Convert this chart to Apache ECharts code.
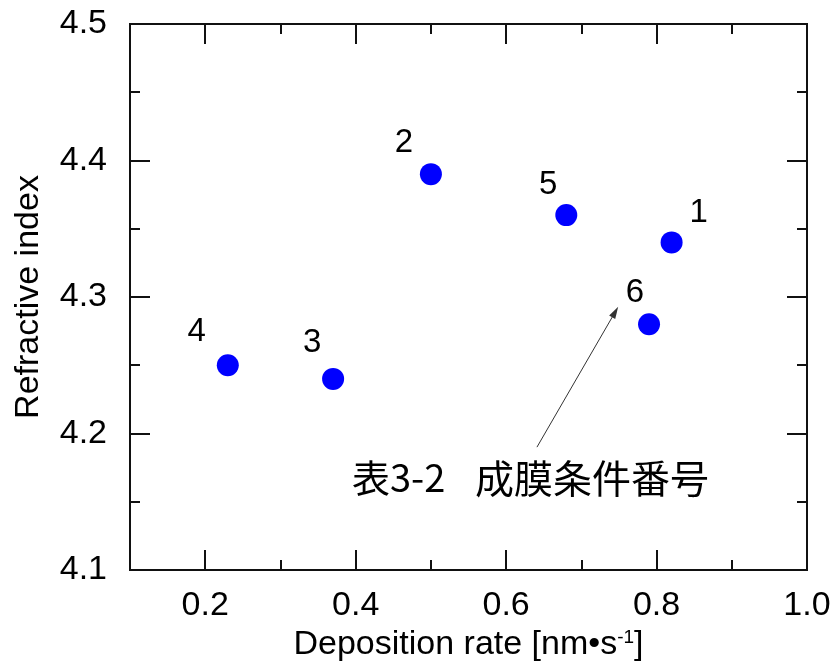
<!DOCTYPE html>
<html><head><meta charset="utf-8">
<script src="https://cdn.jsdelivr.net/npm/echarts@6/dist/echarts.min.js"></script>
<style>html,body{margin:0;padding:0;background:#fff}#c{width:837px;height:672px}</style>
</head><body><div id="c"></div>
<script>
const rates = [0.82, 0.50, 0.37, 0.23, 0.68, 0.79];
const indices = [4.34, 4.39, 4.24, 4.25, 4.36, 4.28];
const pointLabels = ['1','2','3','4','5','6'];
const xMajor = [0.2, 0.4, 0.6, 0.8, 1.0];
const xMinor = [0.1, 0.3, 0.5, 0.7, 0.9];
const yMajor = [4.1, 4.2, 4.3, 4.4, 4.5];
const yMinor = [4.15, 4.25, 4.35, 4.45];
const arrowFrom = [0.641, 4.19];
const arrowTo = [0.745, 4.289];
const noteParts = ['表3-2', '成膜条件番号'];

const labelOffsets = [[27,-29],[-27,-31],[-21,-36],[-31,-33],[-18,-30],[-14,-31]];
const FONT = '"Liberation Sans", Arial, sans-serif';
const LC = '#111';

function xAx(pos, vals, len, showLabel, showName) {
  return {
    type:'value', min:0.1, max:1.0, position:pos,
    axisLine:{show:true, onZero:false, lineStyle:{color:LC, width:2}},
    axisTick:{show:true, inside:true, length:len, customValues:vals, lineStyle:{color:LC, width:2}},
    axisLabel:{show:showLabel, customValues:xMajor, margin:19, color:'#000', fontSize:34, fontFamily:FONT,
      formatter:v=>v.toFixed(1)},
    splitLine:{show:false},
    name: showName ? '{a|Deposition rate [nm•s}{s|-1}{a|]}' : '',
    nameLocation:'middle', nameGap:55,
    nameTextStyle:{rich:{a:{fontSize:34, fontFamily:FONT, color:'#000'}, s:{fontSize:19, fontFamily:FONT, color:'#000', verticalAlign:'top'}}}
  };
}
function yAx(pos, vals, len, showLabel, showName) {
  return {
    type:'value', min:4.1, max:4.5, position:pos,
    axisLine:{show:true, onZero:false, lineStyle:{color:LC, width:2}},
    axisTick:{show:true, inside:true, length:len, customValues:vals, lineStyle:{color:LC, width:2}},
    axisLabel:{show:showLabel, customValues:yMajor, margin:23, color:'#000', fontSize:34, fontFamily:FONT,
      formatter:v=>v.toFixed(1)},
    splitLine:{show:false},
    name: showName ? 'Refractive index' : '',
    nameLocation:'middle', nameGap:84,
    nameTextStyle:{fontSize:34, fontFamily:FONT, color:'#000'}
  };
}

const chart = echarts.init(document.getElementById('c'));
chart.setOption({
  animation:false,
  grid:{left:130, top:24, right:30, bottom:102},
  xAxis:[
    xAx('bottom', xMajor, 20, true, true),
    xAx('bottom', xMinor, 10, false, false),
    xAx('top', xMajor, 20, false, false),
    xAx('top', xMinor, 10, false, false)
  ],
  yAxis:[
    yAx('left', yMajor, 20, true, true),
    yAx('left', yMinor, 10, false, false),
    yAx('right', yMajor, 20, false, false),
    yAx('right', yMinor, 10, false, false)
  ],
  series:[{
    type:'scatter', xAxisIndex:0, yAxisIndex:0,
    symbolSize:22, itemStyle:{color:'#0000ff', opacity:1},
    emphasis:{disabled:true},
    data: rates.map((r,i)=>({value:[r, indices[i]], label:{show:true, formatter:pointLabels[i], position:'inside', offset:labelOffsets[i], color:'#000', opacity:1, fontSize:33, fontFamily:FONT}})),
    markLine:{
      silent:true, symbol:['none','triangle'], symbolSize:[7,12],
      lineStyle:{color:'#333', width:1, type:'solid', opacity:1},
      label:{show:false},
      data:[[{coord:arrowFrom},{coord:arrowTo}]]
    }
  }],
  graphic:[
    {type:'text', left:352, top:459, style:{text:noteParts[0], font:'38px "Noto Sans CJK JP", sans-serif', fill:'#000'}},
    {type:'text', left:475, top:459, style:{text:noteParts[1], font:'39px "Noto Sans CJK JP", sans-serif', fill:'#000'}}
  ]
});
</script></body></html>
